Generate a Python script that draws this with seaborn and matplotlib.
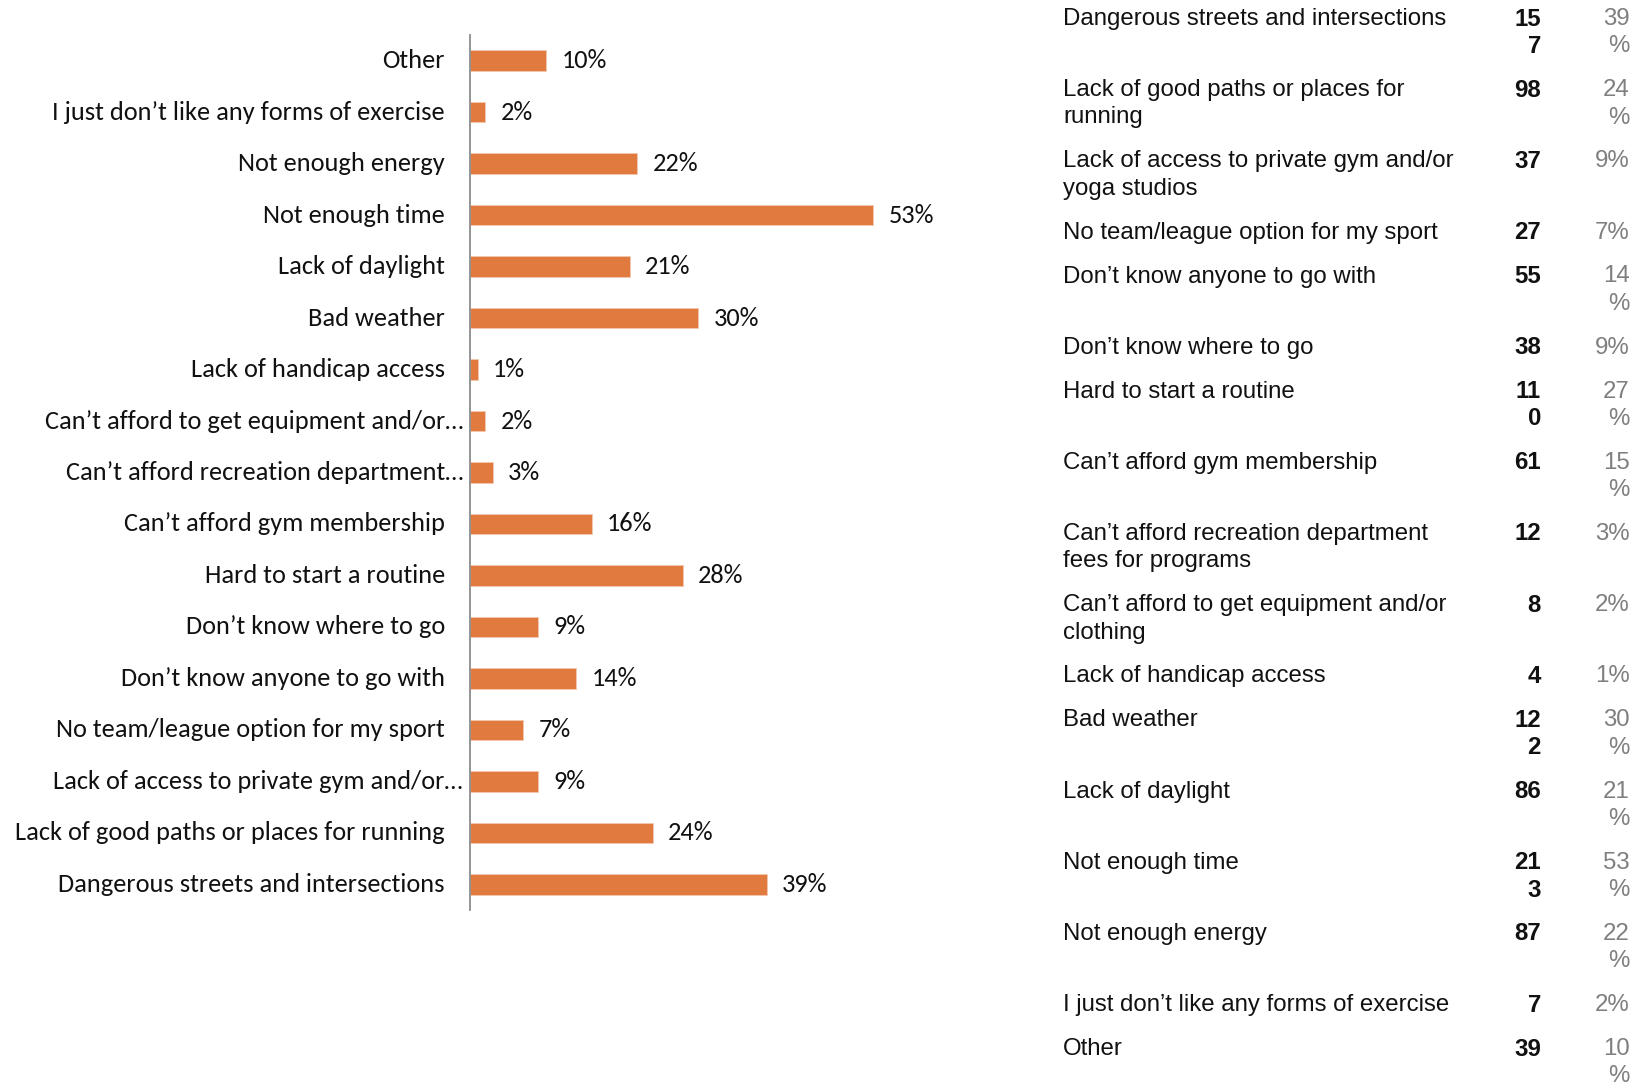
import matplotlib
matplotlib.use("Agg")
import matplotlib.pyplot as plt
import matplotlib.font_manager as fm
from matplotlib.transforms import ScaledTranslation
import seaborn as sns
import pandas as pd

# Survey results, listed from "Dangerous streets..." down to "Other"
table_labels = [
    "Dangerous streets and intersections",
    "Lack of good paths or places for\nrunning",
    "Lack of access to private gym and/or\nyoga studios",
    "No team/league option for my sport",
    "Don\u2019t know anyone to go with",
    "Don\u2019t know where to go",
    "Hard to start a routine",
    "Can\u2019t afford gym membership",
    "Can\u2019t afford recreation department\nfees for programs",
    "Can\u2019t afford to get equipment and/or\nclothing",
    "Lack of handicap access",
    "Bad weather",
    "Lack of daylight",
    "Not enough time",
    "Not enough energy",
    "I just don\u2019t like any forms of exercise",
    "Other",
]
counts = [157, 98, 37, 27, 55, 38, 110, 61, 12, 8, 4, 122, 86, 213, 87, 7, 39]
table_percents = [39, 24, 9, 7, 14, 9, 27, 15, 3, 2, 1, 30, 21, 53, 22, 2, 10]

# Bar chart, top to bottom
bar_labels = [
    "Other",
    "I just don\u2019t like any forms of exercise",
    "Not enough energy",
    "Not enough time",
    "Lack of daylight",
    "Bad weather",
    "Lack of handicap access",
    "Can\u2019t afford to get equipment and/or\u2026",
    "Can\u2019t afford recreation department\u2026",
    "Can\u2019t afford gym membership",
    "Hard to start a routine",
    "Don\u2019t know where to go",
    "Don\u2019t know anyone to go with",
    "No team/league option for my sport",
    "Lack of access to private gym and/or\u2026",
    "Lack of good paths or places for running",
    "Dangerous streets and intersections",
]
bar_values = [10, 2, 22, 53, 21, 30, 1, 2, 3, 16, 28, 9, 14, 7, 9, 24, 39]

W, H = 1649, 1086
sns.set_style("white")
plt.rcParams["font.family"] = ["Carlito", "DejaVu Sans"]
fig = plt.figure(figsize=(W / 100, H / 100), dpi=100)

BAR_COLOR = "#E07A3F"
TEXT = "#111111"

# ---- Horizontal bar chart ----
df = pd.DataFrame({"label": bar_labels, "pct": bar_values})
ax = fig.add_axes([470 / W, 1 - 910 / H, (975 - 470) / W, (910 - 35) / H])
sns.barplot(data=df, x="pct", y="label", color=BAR_COLOR, width=0.4,
            saturation=1, ax=ax, edgecolor="#F4C8AE", linewidth=0.6)
ax.set_xlim(0, 66.4)
ax.set_xlabel("")
ax.set_ylabel("")
ax.set_xticks([])
for s in ["top", "right", "bottom"]:
    ax.spines[s].set_visible(False)
ax.spines["left"].set_color("#8C8C8C")
ax.spines["left"].set_linewidth(1.3)
ax.tick_params(axis="y", length=0, pad=18, labelsize=19, labelcolor=TEXT)
ax.set_yticks(range(len(bar_labels)))
ax.set_yticklabels(bar_labels)
# category labels sit a touch above the bar centre; truncated ones run closer to the axis
lift = ScaledTranslation(0, 2 / 100, fig.dpi_scale_trans)
shift = ScaledTranslation(18 / 100, 2 / 100, fig.dpi_scale_trans)
for lbl in ax.get_yticklabels():
    extra = shift if lbl.get_text().endswith("\u2026") else lift
    lbl.set_transform(lbl.get_transform() + extra)
for cont in ax.containers:
    ax.bar_label(cont, labels=[f"{v}%" for v in df["pct"]], padding=11,
                 fontsize=19, color=TEXT)

# ---- Text table on the right ----
reg = fm.FontProperties(fname=fm.findfont(fm.FontProperties(family="Liberation Sans")), size=17.3)
bold = fm.FontProperties(fname=fm.findfont(fm.FontProperties(family="Liberation Sans", weight="bold")), size=17.3)

tx = fig.add_axes([0, 0, 1, 1], facecolor="none")
tx.set_xlim(0, W)
tx.set_ylim(H, 0)
tx.axis("off")


def split_value(text):
    # narrow column: anything longer than two characters wraps
    return [text[:2], text[2:]] if len(text) > 2 else [text]


LINE = 27.3
GAP = 16.6
y = 19.0
for lab, n, p in zip(table_labels, counts, table_percents):
    lab_lines = lab.split("\n")
    n_lines = split_value(str(n))
    p_lines = split_value(f"{p}%")
    for i, t in enumerate(lab_lines):
        tx.text(1063, y + i * LINE, t, ha="left", va="center",
                fontproperties=reg, color=TEXT)
    for i, t in enumerate(n_lines):
        tx.text(1541, y + i * LINE, t, ha="right", va="center",
                fontproperties=bold, color=TEXT)
    for i, t in enumerate(p_lines):
        tx.text(1630, y + i * LINE, t, ha="right", va="center",
                fontproperties=reg, color="#7F7F7F")
    rows = max(len(lab_lines), len(n_lines), len(p_lines))
    y += rows * LINE + GAP

fig.savefig("out.png", dpi=100)
